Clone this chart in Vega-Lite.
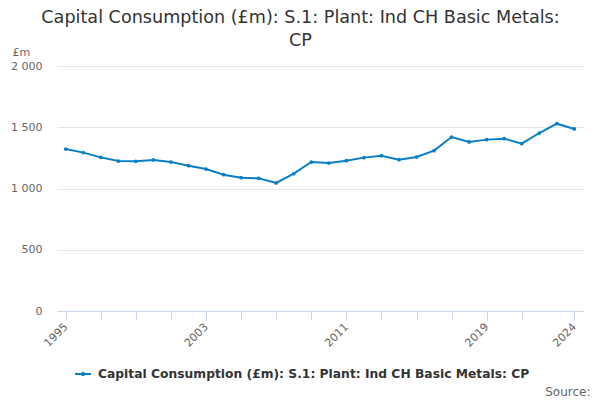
{
  "$schema": "https://vega.github.io/schema/vega-lite/v6.json",
  "autosize": {"type": "none"},
  "width": 527,
  "height": 245,
  "padding": {"left": 57, "top": 66, "right": 16, "bottom": 89},
  "background": "white",
  "title": {
    "text": ["Capital Consumption (£m): S.1: Plant: Ind CH Basic Metals:", "CP"],
    "anchor": "middle",
    "dx": -20,
    "offset": -4,
    "font": "DejaVu Sans",
    "fontSize": 17.6,
    "fontWeight": "normal",
    "color": "#333333",
    "lineHeight": 23
  },
  "data": {
    "values": [
      {"year": 1995, "value": 1322, "series": "Capital Consumption (£m): S.1: Plant: Ind CH Basic Metals: CP"},
      {"year": 1996, "value": 1293, "series": "Capital Consumption (£m): S.1: Plant: Ind CH Basic Metals: CP"},
      {"year": 1997, "value": 1254, "series": "Capital Consumption (£m): S.1: Plant: Ind CH Basic Metals: CP"},
      {"year": 1998, "value": 1224, "series": "Capital Consumption (£m): S.1: Plant: Ind CH Basic Metals: CP"},
      {"year": 1999, "value": 1222, "series": "Capital Consumption (£m): S.1: Plant: Ind CH Basic Metals: CP"},
      {"year": 2000, "value": 1233, "series": "Capital Consumption (£m): S.1: Plant: Ind CH Basic Metals: CP"},
      {"year": 2001, "value": 1216, "series": "Capital Consumption (£m): S.1: Plant: Ind CH Basic Metals: CP"},
      {"year": 2002, "value": 1186, "series": "Capital Consumption (£m): S.1: Plant: Ind CH Basic Metals: CP"},
      {"year": 2003, "value": 1159, "series": "Capital Consumption (£m): S.1: Plant: Ind CH Basic Metals: CP"},
      {"year": 2004, "value": 1113, "series": "Capital Consumption (£m): S.1: Plant: Ind CH Basic Metals: CP"},
      {"year": 2005, "value": 1088, "series": "Capital Consumption (£m): S.1: Plant: Ind CH Basic Metals: CP"},
      {"year": 2006, "value": 1083, "series": "Capital Consumption (£m): S.1: Plant: Ind CH Basic Metals: CP"},
      {"year": 2007, "value": 1045, "series": "Capital Consumption (£m): S.1: Plant: Ind CH Basic Metals: CP"},
      {"year": 2008, "value": 1121, "series": "Capital Consumption (£m): S.1: Plant: Ind CH Basic Metals: CP"},
      {"year": 2009, "value": 1216, "series": "Capital Consumption (£m): S.1: Plant: Ind CH Basic Metals: CP"},
      {"year": 2010, "value": 1208, "series": "Capital Consumption (£m): S.1: Plant: Ind CH Basic Metals: CP"},
      {"year": 2011, "value": 1227, "series": "Capital Consumption (£m): S.1: Plant: Ind CH Basic Metals: CP"},
      {"year": 2012, "value": 1252, "series": "Capital Consumption (£m): S.1: Plant: Ind CH Basic Metals: CP"},
      {"year": 2013, "value": 1268, "series": "Capital Consumption (£m): S.1: Plant: Ind CH Basic Metals: CP"},
      {"year": 2014, "value": 1235, "series": "Capital Consumption (£m): S.1: Plant: Ind CH Basic Metals: CP"},
      {"year": 2015, "value": 1257, "series": "Capital Consumption (£m): S.1: Plant: Ind CH Basic Metals: CP"},
      {"year": 2016, "value": 1309, "series": "Capital Consumption (£m): S.1: Plant: Ind CH Basic Metals: CP"},
      {"year": 2017, "value": 1420, "series": "Capital Consumption (£m): S.1: Plant: Ind CH Basic Metals: CP"},
      {"year": 2018, "value": 1380, "series": "Capital Consumption (£m): S.1: Plant: Ind CH Basic Metals: CP"},
      {"year": 2019, "value": 1399, "series": "Capital Consumption (£m): S.1: Plant: Ind CH Basic Metals: CP"},
      {"year": 2020, "value": 1407, "series": "Capital Consumption (£m): S.1: Plant: Ind CH Basic Metals: CP"},
      {"year": 2021, "value": 1366, "series": "Capital Consumption (£m): S.1: Plant: Ind CH Basic Metals: CP"},
      {"year": 2022, "value": 1453, "series": "Capital Consumption (£m): S.1: Plant: Ind CH Basic Metals: CP"},
      {"year": 2023, "value": 1529, "series": "Capital Consumption (£m): S.1: Plant: Ind CH Basic Metals: CP"},
      {"year": 2024, "value": 1486, "series": "Capital Consumption (£m): S.1: Plant: Ind CH Basic Metals: CP"}
    ]
  },
  "mark": {
    "type": "line",
    "strokeWidth": 2,
    "point": {"filled": true, "size": 14}
  },
  "encoding": {
    "x": {
      "field": "year",
      "type": "quantitative",
      "scale": {"domain": [1994.5, 2024.55], "nice": false, "zero": false},
      "axis": {
        "values": [1995, 1997, 1999, 2001, 2003, 2005, 2007, 2009, 2011, 2013, 2015, 2017, 2019, 2021, 2024],
        "labelExpr": "indexof([1995, 2003, 2011, 2019, 2024], datum.value) >= 0 ? datum.value : ''",
        "labelAngle": -45,
        "labelAlign": "right",
        "labelBaseline": "middle",
        "labelFont": "DejaVu Sans",
        "labelFontSize": 11,
        "labelColor": "#666666",
        "labelPadding": 5,
        "grid": false,
        "domainColor": "#ccd6eb",
        "tickColor": "#ccd6eb",
        "tickSize": 9,
        "title": "Source:",
        "titleFont": "DejaVu Sans",
        "titleFontSize": 12,
        "titleFontWeight": "normal",
        "titleColor": "#666666",
        "titleAlign": "right",
        "titleAnchor": "end",
        "titleBaseline": "middle",
        "titleX": 533,
        "titleY": 80
      }
    },
    "y": {
      "field": "value",
      "type": "quantitative",
      "scale": {"domain": [0, 2000], "nice": false},
      "axis": {
        "values": [0, 500, 1000, 1500, 2000],
        "labelExpr": "replace(format(datum.value, ','), ',', ' ')",
        "labelFont": "DejaVu Sans",
        "labelFontSize": 11,
        "labelColor": "#666666",
        "labelPadding": 15,
        "domain": false,
        "ticks": false,
        "gridColor": "#e6e6e6",
        "title": "£m",
        "titleAngle": 0,
        "titleAlign": "left",
        "titleBaseline": "middle",
        "titleFont": "DejaVu Sans",
        "titleFontSize": 11,
        "titleFontWeight": "normal",
        "titleColor": "#666666",
        "titleX": -45,
        "titleY": -14
      }
    },
    "color": {
      "field": "series",
      "type": "nominal",
      "scale": {"range": ["#0a7fc5"]},
      "legend": {
        "title": null,
        "orient": "none",
        "legendX": 17,
        "legendY": 299,
        "symbolType": "M-1,0H1M-0.15,0a0.15,0.15 0 1,0 0.3,0a0.15,0.15 0 1,0 -0.3,0",
        "symbolSize": 256,
        "symbolStrokeWidth": 2,
        "labelFont": "DejaVu Sans",
        "labelFontSize": 12.3,
        "labelFontWeight": "bold",
        "labelColor": "#333333",
        "labelOffset": 6,
        "labelLimit": 600
      }
    }
  },
  "config": {
    "view": {"stroke": null}
  }
}
